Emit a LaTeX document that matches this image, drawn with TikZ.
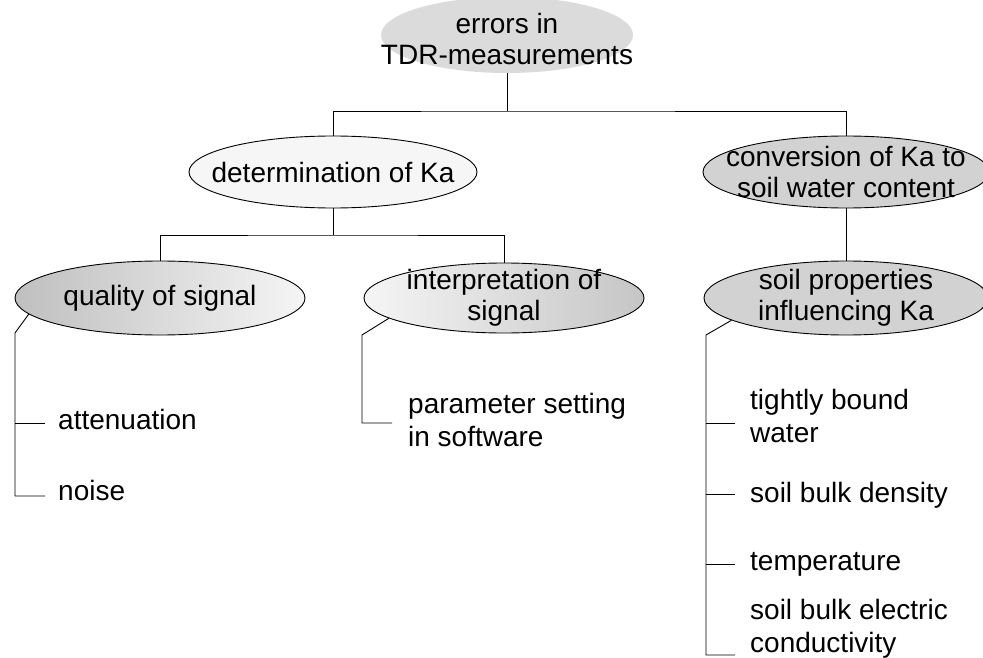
\documentclass[tikz,border=0pt]{standalone}
\usepackage{fontspec}
\setmainfont{Liberation Sans}
\usetikzlibrary{shapes.geometric}
\begin{document}
\begin{tikzpicture}[x=1pt,y=-1pt,
  oval/.style={ellipse,draw=black,line width=0.9pt,inner sep=0pt},
  ovaltext/.style={align=center,inner sep=0pt,font=\fontsize{28}{31}\selectfont},
  leaf/.style={anchor=west,inner sep=0pt,align=left,font=\fontsize{28}{33}\selectfont},
  link/.style={line width=0.9pt,black}]
\useasboundingbox (0,0) rectangle (983,658);
% ellipses
\node[oval,draw=none,fill=gray!28,minimum width=252pt,minimum height=76pt] (top) at (507,35) {};
\node[oval,fill=gray!7,minimum width=288pt,minimum height=72pt] (det) at (333,172) {};
\node[oval,left color=gray!50,right color=gray!8,minimum width=290pt,minimum height=74pt] (qual) at (160,298) {};
\node[oval,left color=gray!8,right color=gray!45,minimum width=280pt,minimum height=70pt] (interp) at (504,298) {};
\node[oval,fill=gray!35,minimum width=286pt,minimum height=72pt] (conv) at (846,172) {};
\node[oval,fill=gray!35,minimum width=284pt,minimum height=74pt] (soilp) at (846,298) {};
% ellipse texts
\node[ovaltext,yshift=-4pt] at (top) {errors in\\TDR-measurements};
\node[ovaltext] at (det) {determination of Ka};
\node[ovaltext] at (qual) {quality of signal};
\node[ovaltext] at (interp) {interpretation of\\signal};
\node[ovaltext] at (conv) {conversion of Ka to\\soil water content};
\node[ovaltext] at (soilp) {soil properties\\influencing Ka};
% tree connectors
\coordinate (j1) at (507,111);
\coordinate (j2) at (333,235);
\draw[link] (top.south) -- (j1);
\draw[link] (det.north) |- (j1) -| (conv.north);
\draw[link] (det.south) -- (j2);
\draw[link] (qual.north) |- (j2) -| (interp.north);
\draw[link] (conv.south) -- (soilp.north);
% leaves
\node[leaf] (att) at (58,419) {attenuation};
\node[leaf] (noise) at (58,490) {noise};
\node[leaf] (param) at (408,420) {parameter setting\\in software};
\node[leaf] (tight) at (750,416) {tightly bound\\water};
\node[leaf] (dens) at (750,495) {soil bulk density};
\node[leaf] (temp) at (750,564) {temperature};
\node[leaf] (cond) at (750,629) {soil bulk electric\\conductivity};
% brackets
\coordinate (qb) at (15,333);
\coordinate (qt1) at (45,423);
\coordinate (qt2) at (45,496);
\draw[link] (qual.187) -- (qb) |- (qt2);
\draw[link] (qt1) -- (qt1 -| qb);
\coordinate (ib) at (362,335);
\coordinate (it1) at (392,423);
\draw[link] (interp.190) -- (ib) |- (it1);
\coordinate (sb) at (706,335);
\coordinate (st1) at (735,423);
\coordinate (st2) at (735,494);
\coordinate (st3) at (735,564);
\coordinate (st4) at (735,655);
\draw[link] (soilp.191) -- (sb) |- (st4);
\draw[link] (st1) -- (st1 -| sb);
\draw[link] (st2) -- (st2 -| sb);
\draw[link] (st3) -- (st3 -| sb);
\end{tikzpicture}
\end{document}
